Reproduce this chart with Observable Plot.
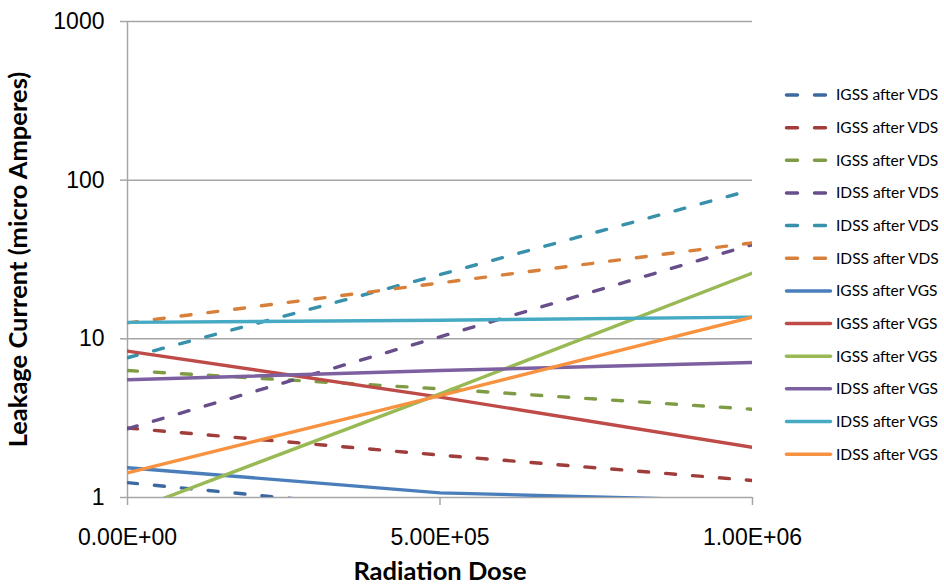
<!DOCTYPE html>
<html><head><meta charset="utf-8">
<script src="https://cdn.jsdelivr.net/npm/d3@7"></script>
<script src="https://cdn.jsdelivr.net/npm/@observablehq/plot@0.6"></script>
<style>body{margin:0;background:#fff}</style>
</head><body><div id="chart"></div>
<script>
// ---- data ----
const doses = [0, 500000, 1000000];
const names = ["IGSS after VDS","IGSS after VDS","IGSS after VDS","IDSS after VDS","IDSS after VDS","IDSS after VDS",
               "IGSS after VGS","IGSS after VGS","IGSS after VGS","IDSS after VGS","IDSS after VGS","IDSS after VGS"];
const dashed = [true,true,true,true,true,true,false,false,false,false,false,false];
const colors = ["#3C69A0","#A03C3A","#7E9C44","#684E8A","#3891AA","#D8803A",
                "#4A7EBB","#BE4B48","#98B954","#7D60A0","#46AAC5","#F69240"];
const s0 = [1.24, 0.80, 0.55];
const s1 = [2.74, 1.85, 1.28];
const s2 = [6.31, 4.84, 3.6];
const s3 = [2.71, 10.3, 39.3];
const s4 = [7.6, 25.4, 87];
const s5 = [12.6, 22.5, 40.3];
const s6 = [1.54, 1.07, 0.95];
const s7 = [8.36, 4.29, 2.07];
const s8 = [0.81, 4.5, 26];
const s9 = [5.52, 6.31, 7.09];
const s10 = [12.7, 13.1, 13.7];
const s11 = [1.43, 4.39, 13.7];
const values = [s0,s1,s2,s3,s4,s5,s6,s7,s8,s9,s10,s11];
const yTicks = [1, 10, 100, 1000];
const xTicks = [0, 500000, 1000000];
const xTitle = "Radiation Dose";
const yTitle = "Leakage Current (micro Amperes)";

// ---- build ----
const rows = [];
values.forEach((vals, i) => doses.forEach((d, j) => rows.push({s: i, dose: d, value: vals[j]})));

function fmtE(d) {
  const [m, e] = d.toExponential(2).toUpperCase().split("E");
  const n = parseInt(e, 10);
  return m + "E" + (n < 0 ? "-" : "+") + String(Math.abs(n)).padStart(2, "0");
}

const TICKFONT = "Liberation Sans";
const DASH = "10,17";
const lineMarks = values.map((v, i) => Plot.line(rows.filter(r => r.s === i), {
  x: "dose", y: "value", stroke: colors[i], strokeWidth: 3.4,
  strokeDasharray: dashed[i] ? DASH : null, strokeLinecap: "round", clip: true
}));

const chart = Plot.plot({
  width: 944, height: 584,
  marginLeft: 127, marginRight: 192, marginTop: 21, marginBottom: 87,
  x: {domain: [0, 1000000]},
  y: {type: "log", domain: [1, 1000]},
  style: {fontFamily: TICKFONT, fontSize: "23px", color: "#000", background: "#fff"},
  marks: [
    Plot.ruleY(yTicks, {stroke: "#a6a6a6", strokeWidth: 1.5}),
    Plot.ruleX([0], {stroke: "#a6a6a6", strokeWidth: 1.5}),
    Plot.axisY({ticks: yTicks, tickFormat: d => String(d), tickSize: 7, tickPadding: 16, stroke: "#a6a6a6", strokeWidth: 1.5, fill: "#000", label: null, fontSize: 23, fontFamily: TICKFONT}),
    Plot.axisX({ticks: xTicks, tickFormat: fmtE, tickSize: 8, tickPadding: 23, stroke: "#a6a6a6", strokeWidth: 1.5, fill: "#000", label: null, fontSize: 23, fontFamily: TICKFONT}),
    ...lineMarks,
    Plot.text([xTitle], {frameAnchor: "bottom", dy: 82, textAnchor: "middle", text: d => d, fontFamily: "Lato", fontWeight: "bold", fontSize: 25.5, fill: "#000"}),
    Plot.text([yTitle], {frameAnchor: "left", dx: -109, textAnchor: "middle", rotate: -90, text: d => d, fontFamily: "Lato", fontWeight: "bold", fontSize: 25.5, fill: "#000"})
  ]
});
document.getElementById("chart").appendChild(chart);

// ---- legend ----
const svg = d3.select(chart);
const lg = svg.append("g").attr("font-family", "Lato").attr("font-size", 15.5).attr("text-anchor", "start");
names.forEach((n, i) => {
  const y = 95 + i * 32.65;
  lg.append("line").attr("x1", 786.5).attr("x2", 830.5).attr("y1", y).attr("y2", y)
    .attr("stroke", colors[i]).attr("stroke-width", 3.5).attr("stroke-linecap", "round")
    .attr("stroke-dasharray", dashed[i] ? "11,17" : null);
  lg.append("text").attr("x", 836).attr("y", y).attr("dy", "0.35em").attr("text-anchor", "start").attr("fill", "#000").text(n);
});
</script>
</body></html>
